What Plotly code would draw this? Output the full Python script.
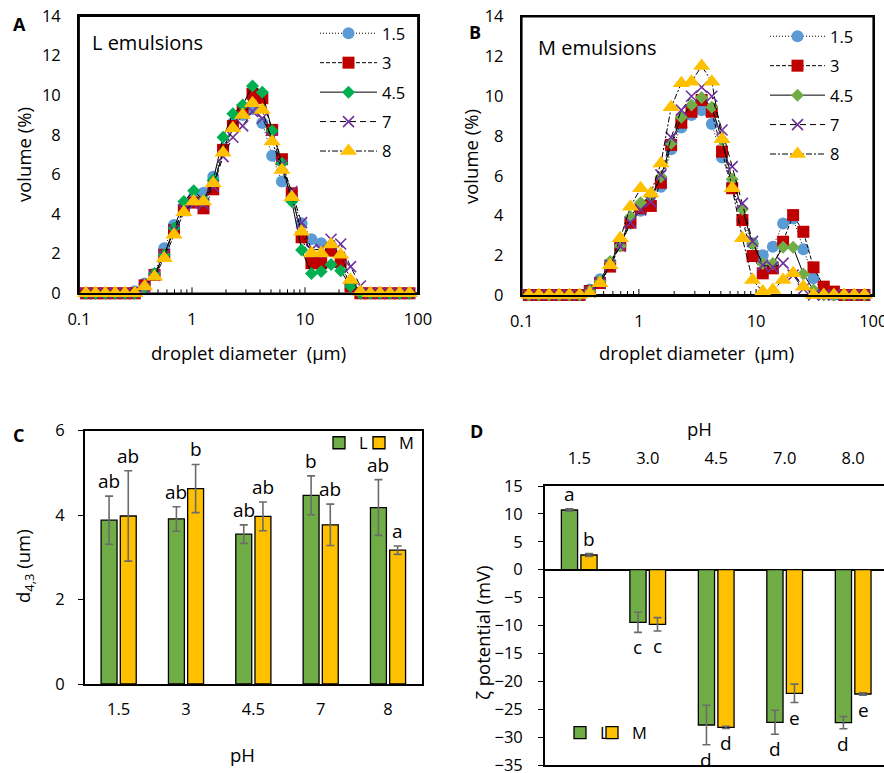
import plotly.graph_objects as go

FONT = "Open Sans"
W, H = 884, 773

# ---------------- droplet size distributions (panels A and B) ----------------
diam_um = [0.115, 0.140, 0.171, 0.209, 0.255, 0.312, 0.381, 0.466, 0.568, 0.693,
           0.847, 1.035, 1.264, 1.542, 1.884, 2.301, 2.81, 3.43, 4.19, 5.12,
           6.25, 7.64, 9.33, 11.4, 13.9, 17.0, 20.7, 25.3, 30.9, 37.8,
           46.1, 56.4, 68.8, 84.0, 102.6]

ph_series = ["1.5", "3", "4.5", "7", "8"]

# L emulsions, volume (%)
l_ph15 = [0, 0, 0, 0, 0, 0.1, 0.5, 0.98, 2.27, 3.45, 4.38, 4.85, 5.08, 5.89, 7.3, 8.6, 9.0, 9.3,
          8.6, 6.94, 5.64, 4.9, 3.54, 2.73, 2.53, 2.2, 1.6, 0.2, 0, 0, 0, 0, 0, 0, 0]
l_ph3 = [0, 0, 0, 0, 0, 0, 0.4, 0.93, 1.94, 3.2, 4.2, 4.58, 4.29, 5.25, 7.24, 8.45, 9.26, 10.07,
         9.85, 8.25, 6.77, 5.05, 2.83, 1.52, 1.52, 2.15, 1.6, 0.34, 0, 0, 0, 0, 0, 0, 0]
l_ph45 = [0, 0, 0, 0, 0, 0, 0.3, 1.0, 1.95, 3.3, 4.63, 5.18, 4.7, 5.72, 7.88, 9.06, 9.51, 10.47,
          10.15, 8.21, 6.57, 4.63, 2.19, 1.0, 1.1, 1.46, 1.14, 0.35, 0, 0, 0, 0, 0, 0, 0]
l_ph7 = [0, 0, 0, 0, 0, 0, 0.3, 0.9, 1.9, 3.2, 4.2, 4.5, 4.5, 5.4, 6.9, 7.88, 8.45, 9.18,
         8.84, 7.83, 6.48, 5.13, 3.57, 2.19, 2.22, 2.73, 2.49, 1.35, 0.37, 0, 0, 0, 0, 0, 0]
l_ph8 = [0, 0, 0, 0, 0, 0, 0.34, 0.84, 1.77, 2.95, 4.09, 4.63, 4.63, 5.56, 7.1, 8.33, 9.0, 9.6,
         9.26, 7.66, 6.23, 4.85, 3.11, 2.02, 2.02, 2.47, 1.94, 0.67, 0.08, 0, 0, 0, 0, 0, 0]

# M emulsions, volume (%)
m_ph15 = [0, 0, 0, 0, 0, 0, 0.28, 0.79, 1.56, 2.5, 3.6, 4.24, 4.61, 5.45, 7.33, 8.43, 9.05, 9.3,
          8.6, 6.92, 5.53, 3.77, 2.6, 2.0, 2.43, 3.6, 3.85, 2.3, 0.84, 0.08, 0, 0, 0, 0, 0]
m_ph3 = [0, 0, 0, 0, 0, 0, 0.2, 0.6, 1.43, 2.5, 3.64, 4.36, 4.48, 5.65, 7.55, 8.67, 9.22, 9.81,
         9.22, 7.21, 5.37, 3.77, 1.96, 1.09, 1.34, 2.68, 4.02, 3.18, 1.39, 0.42, 0.17, 0, 0, 0, 0]
m_ph45 = [0, 0, 0, 0, 0, 0, 0.2, 0.7, 1.68, 2.46, 3.94, 4.64, 4.95, 5.95, 7.63, 8.94, 9.56, 9.94,
          9.44, 7.8, 5.82, 4.31, 2.56, 1.59, 1.59, 2.4, 2.4, 1.06, 0.25, 0, 0, 0, 0, 0, 0]
m_ph7 = [0, 0, 0, 0, 0, 0, 0.15, 0.6, 1.5, 2.46, 3.64, 4.28, 4.7, 6.04, 7.93, 9.3, 10.0, 10.45,
         10.0, 8.3, 6.46, 4.61, 2.7, 1.5, 1.4, 1.6, 1.0, 0.3, 0, 0, 0, 0, 0, 0, 0]
m_ph8 = [0, 0, 0, 0, 0, 0, 0.08, 0.59, 1.5, 2.85, 4.44, 5.37, 5.11, 6.62, 9.44, 10.65, 10.73, 11.52,
         10.73, 7.83, 5.37, 2.85, 0.75, 0.17, 0.25, 0.75, 1.09, 0.42, 0, 0, 0, 0, 0, 0, 0]

# ---------------- mean diameter d4,3 (panel C) ----------------
ph_c = ["1.5", "3", "4.5", "7", "8"]
d43_l = [3.88, 3.91, 3.55, 4.47, 4.18]
d43_l_err = [0.57, 0.29, 0.22, 0.46, 0.66]
d43_m = [3.98, 4.63, 3.97, 3.77, 3.17]
d43_m_err = [1.07, 0.57, 0.34, 0.49, 0.10]
d43_l_letters = ["ab", "ab", "ab", "b", "ab"]
d43_m_letters = ["ab", "b", "ab", "ab", "a"]

# ---------------- zeta potential (panel D) ----------------
ph_d = ["1.5", "3.0", "4.5", "7.0", "8.0"]
zeta_l = [10.7, -9.43, -27.83, -27.35, -27.41]
zeta_l_err = [0.2, 1.8, 3.55, 2.15, 1.1]
zeta_m = [2.63, -9.79, -28.25, -22.16, -22.28]
zeta_m_err = [0.25, 1.2, 0.2, 1.65, 0.2]
zeta_l_letters = ["a", "c", "d", "d", "d"]
zeta_m_letters = ["b", "c", "d", "e", "e"]

# axis extents of the distribution panels
DIAM_RANGE = (0.1, 100)
VOL_RANGE = (0, 14)
VOL_STEP = 2

# log-axis tick positions (decades labelled, intermediate ticks unlabelled)
log_decades = [0.1, 1, 10, 100]
log_tick_vals = [m * 10 ** e for e in (-1, 0, 1) for m in range(1, 10)] + [100]
log_tick_text = [f"{v:g}" if v in log_decades else "" for v in log_tick_vals]

# ---------------- styles ----------------
BLUE, RED, PURPLE, GOLD = "#5B9BD5", "#C00000", "#7030A0", "#FFC000"
GREEN_A, GREEN_B = "#00B050", "#70AD47"
BAR_L, BAR_M = "#70AD47", "#FFC000"
ERR = "#6b6b6b"

series_style = [
    dict(dash="1px,2px", symbol="circle", size=12),
    dict(dash="4px,2px", symbol="square", size=12),
    dict(dash="solid", symbol="diamond", size=10),
    dict(dash="6px,4px", symbol="x-thin", size=11),
    dict(dash="6px,2px,2px,2px", symbol="triangle-up", size=15),
]

# plot-area boxes in page pixels: (left, right, top, bottom)
BOX_A = (79, 418, 16, 293.3)
BOX_B = (521.7, 873.3, 16.7, 295)
BOX_C = (85, 421.7, 430.7, 684)
BOX_D = (545, W, 486, 765)


def px_x(p):
    return p / W


def px_y(p):
    return 1 - p / H


fig = go.Figure()


def add_box_and_ticks(xa, ya, box):
    """Outline and tick marks of a log-x / linear-y panel, in axis units."""
    x_lo, x_hi = DIAM_RANGE
    y_lo, y_hi = VOL_RANGE
    px_per_decade = (box[1] - box[0]) / 3.0
    px_per_unit = (box[3] - box[2]) / (y_hi - y_lo)
    fig.add_trace(go.Scatter(
        x=[x_lo, x_hi, x_hi, x_lo, x_lo], y=[y_lo, y_lo, y_hi, y_hi, y_lo],
        mode="lines", line=dict(color="black", width=1.8), xaxis=xa, yaxis=ya,
        showlegend=False, hoverinfo="skip", cliponaxis=False,
    ))
    tx, ty = [], []
    x_out = x_lo * 10 ** (-5 / px_per_decade)
    for v in range(y_lo, y_hi + 1, VOL_STEP):
        tx += [x_out, x_lo, None]
        ty += [v, v, None]
    for v in log_tick_vals:
        tick_len = 6 if v in log_decades else 4
        tx += [v, v, None]
        ty += [y_lo, y_lo + tick_len / px_per_unit, None]
    fig.add_trace(go.Scatter(
        x=tx, y=ty, mode="lines", line=dict(color="black", width=1), xaxis=xa, yaxis=ya,
        showlegend=False, hoverinfo="skip", cliponaxis=False,
    ))


def add_psd(values_list, colors, xa, ya, legend):
    for name, vals, col, st in zip(ph_series, values_list, colors, series_style):
        if st["symbol"] == "x-thin":
            marker = dict(symbol="x-thin", size=st["size"], color=col,
                          line=dict(color=col, width=1.6))
        else:
            marker = dict(symbol=st["symbol"], size=st["size"], color=col,
                          line=dict(width=0))
        fig.add_trace(go.Scatter(
            x=diam_um, y=vals, name=name, mode="lines+markers",
            line=dict(color="black", width=1, dash=st["dash"]),
            marker=marker, xaxis=xa, yaxis=ya, legend=legend,
            legendgroup=legend + "_" + str(len(fig.data)), cliponaxis=False,
        ))


add_box_and_ticks("x", "y", BOX_A)
add_box_and_ticks("x2", "y2", BOX_B)
add_psd([l_ph15, l_ph3, l_ph45, l_ph7, l_ph8], [BLUE, RED, GREEN_A, PURPLE, GOLD],
        "x", "y", "legend")
add_psd([m_ph15, m_ph3, m_ph45, m_ph7, m_ph8], [BLUE, RED, GREEN_B, PURPLE, GOLD],
        "x2", "y2", "legend2")


# ---------------- bar panels ----------------
def add_bars(cats, l_vals, l_err, m_vals, m_err, xa, ya, leg_l, leg_m):
    for name, vals, err, col, leg in (("L", l_vals, l_err, BAR_L, leg_l),
                                      ("M", m_vals, m_err, BAR_M, leg_m)):
        fig.add_trace(go.Bar(
            x=cats, y=vals, name=name, xaxis=xa, yaxis=ya, legend=leg,
            marker=dict(color=col, line=dict(color="black", width=1.3)),
            error_y=dict(type="data", array=err, visible=True, color=ERR,
                         thickness=1.6, width=4),
        ))


add_bars(ph_c, d43_l, d43_l_err, d43_m, d43_m_err, "x3", "y3", "legend3", "legend4")
add_bars(ph_d, zeta_l, zeta_l_err, zeta_m, zeta_m_err, "x4", "y4", "legend5", "legend6")

annotations = []
LET_FONT = dict(family=FONT, size=19, color="black")
OFF = 0.145
for i in range(5):
    annotations.append(dict(x=i - OFF, y=d43_l[i] + d43_l_err[i], xref="x3", yref="y3",
                            text=d43_l_letters[i], showarrow=False, yanchor="bottom",
                            font=LET_FONT))
    annotations.append(dict(x=i + OFF, y=d43_m[i] + d43_m_err[i], xref="x3", yref="y3",
                            text=d43_m_letters[i], showarrow=False, yanchor="bottom",
                            font=LET_FONT))
    for off, v, e, t in ((-OFF, zeta_l[i], zeta_l_err[i], zeta_l_letters[i]),
                         (OFF, zeta_m[i], zeta_m_err[i], zeta_m_letters[i])):
        if v >= 0:
            annotations.append(dict(x=i + off, y=v + e, xref="x4", yref="y4", text=t,
                                    showarrow=False, yanchor="bottom", font=LET_FONT))
        else:
            annotations.append(dict(x=i + off, y=v - e, xref="x4", yref="y4", text=t,
                                    showarrow=False, yanchor="top", font=LET_FONT))


def paper_text(text, x, y, size, angle=0, bold=False, xanchor="center"):
    annotations.append(dict(
        x=px_x(x), y=px_y(y), xref="paper", yref="paper",
        text=f"<b>{text}</b>" if bold else text,
        showarrow=False, textangle=angle, xanchor=xanchor, yanchor="middle",
        font=dict(family=FONT, size=size, color="black"),
    ))


# panel letters
paper_text("A", 19, 24, 18, bold=True)
paper_text("B", 475, 32, 18, bold=True)
paper_text("C", 18, 435, 18, bold=True)
paper_text("D", 476, 431, 18, bold=True)

# panel titles
paper_text("L emulsions", 90, 43, 20, xanchor="left")
paper_text("M emulsions", 536, 47, 20, xanchor="left")

# axis titles
paper_text("volume (%)", 23, 155, 18.5, angle=-90)
paper_text("droplet diameter \u00a0(\u03bcm)", 248, 352, 18.5)
paper_text("volume (%)", 470, 157, 18.5, angle=-90)
paper_text("droplet diameter \u00a0(\u03bcm)", 696, 352, 18.5)
paper_text("d<sub>4,3</sub> (um)", 24, 566, 18.5, angle=-90)
paper_text("pH", 242, 754, 18.5)
paper_text("\u03b6 potential (mV)", 482, 632, 18.5, angle=-90)
paper_text("pH", 699, 428, 18.5)

TICKF = dict(family=FONT, size=16.5, color="black")
AX = dict(showgrid=False, zeroline=False, showline=True, linecolor="black", linewidth=1.8,
          tickfont=TICKF, tickcolor="black", automargin=False, ticklabeloverflow="allow")

log_x = dict(AX, type="log", range=[-1, 2], mirror=True, ticks="",
             tickmode="array", tickvals=log_tick_vals,
             ticktext=log_tick_text, ticklabelstandoff=10)
vol_y = dict(AX, range=list(VOL_RANGE), dtick=VOL_STEP, mirror=True, ticks="",
             ticklabelstandoff=13)

fig.update_layout(
    width=W, height=H, autosize=False,
    margin=dict(l=0, r=0, t=0, b=0, pad=0, autoexpand=False),
    paper_bgcolor="white", plot_bgcolor="white",
    font=dict(family=FONT, color="black"),
    barmode="group", bargap=0.43, bargroupgap=0.17,
    showlegend=True,
    xaxis=dict(log_x, domain=[px_x(BOX_A[0]), px_x(BOX_A[1])], anchor="y"),
    yaxis=dict(vol_y, domain=[px_y(BOX_A[3]), px_y(BOX_A[2])], anchor="x"),
    xaxis2=dict(log_x, domain=[px_x(BOX_B[0]), px_x(BOX_B[1])], anchor="y2"),
    yaxis2=dict(vol_y, domain=[px_y(BOX_B[3]), px_y(BOX_B[2])], anchor="x2"),
    xaxis3=dict(AX, type="category", range=[-0.5, 4.5], mirror=True, ticks="",
                ticklabelstandoff=9, domain=[px_x(BOX_C[0]), px_x(BOX_C[1])], anchor="y3"),
    yaxis3=dict(AX, range=[0, 6], dtick=2, mirror=True, ticks="outside", ticklen=5,
                tickwidth=1, ticklabelstandoff=10,
                domain=[px_y(BOX_C[3]), px_y(BOX_C[2])], anchor="x3"),
    xaxis4=dict(AX, type="category", range=[-0.5, 4.45], side="top", mirror=True, ticks="",
                ticklabelstandoff=14, domain=[px_x(BOX_D[0]), 1.0], anchor="y4"),
    yaxis4=dict(AX, range=[-35, 15], dtick=5, mirror=False, ticks="outside", ticklen=5,
                tickwidth=1, ticklabelstandoff=12, zeroline=True, zerolinecolor="black",
                zerolinewidth=1.5, domain=[px_y(BOX_D[3]), px_y(BOX_D[2])], anchor="x4"),
    legend=dict(x=px_x(315), y=px_y(16), xanchor="left", yanchor="top", itemwidth=57,
                tracegroupgap=5, bgcolor="rgba(0,0,0,0)", font=TICKF),
    legend2=dict(x=px_x(765), y=px_y(19), xanchor="left", yanchor="top", itemwidth=55,
                 tracegroupgap=5, bgcolor="rgba(0,0,0,0)", font=TICKF),
    legend3=dict(x=px_x(319), y=px_y(443), xanchor="left", yanchor="middle",
                 bgcolor="rgba(0,0,0,0)", font=TICKF),
    legend4=dict(x=px_x(359), y=px_y(443), xanchor="left", yanchor="middle",
                 bgcolor="rgba(0,0,0,0)", font=TICKF),
    legend5=dict(x=px_x(560), y=px_y(733), xanchor="left", yanchor="middle",
                 bgcolor="rgba(0,0,0,0)", font=TICKF),
    legend6=dict(x=px_x(592), y=px_y(733), xanchor="left", yanchor="middle",
                 bgcolor="rgba(0,0,0,0)", font=TICKF),
    annotations=annotations,
)

fig.write_html("out.html")
